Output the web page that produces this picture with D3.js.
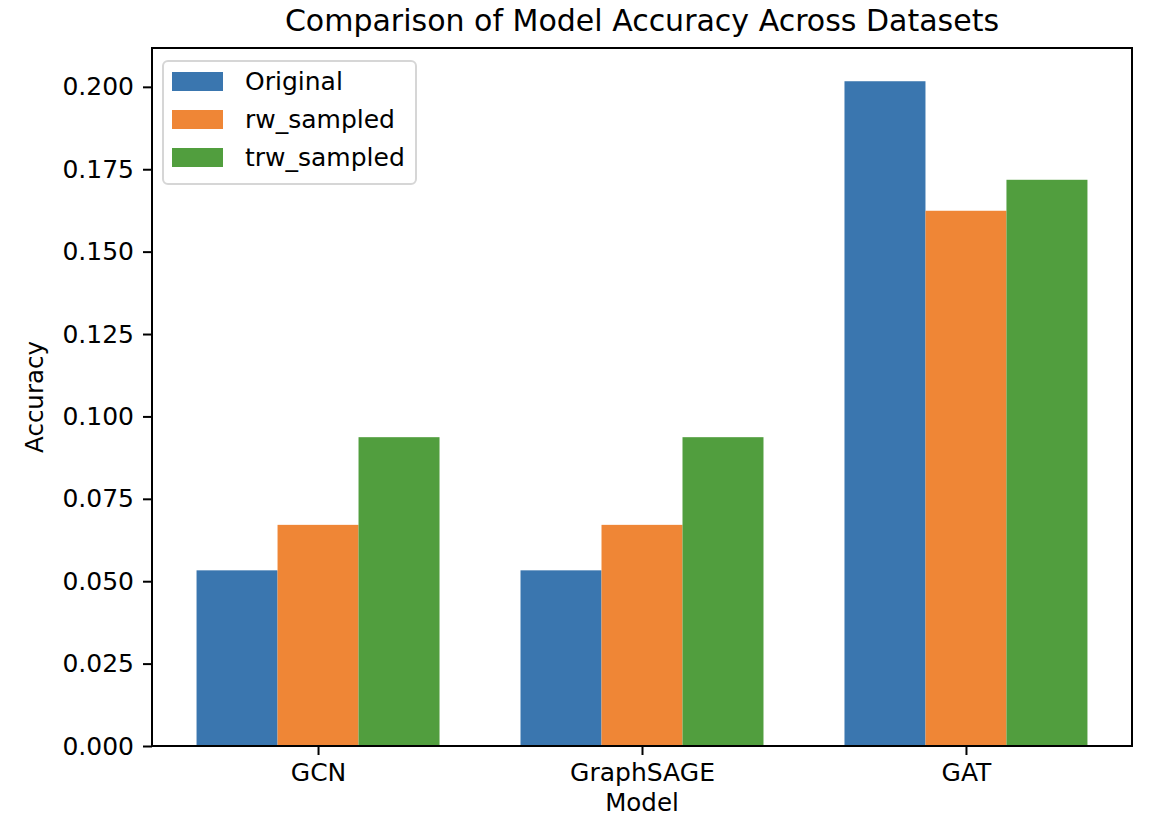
<!DOCTYPE html>
<html>
<head>
<meta charset="utf-8">
<script src="https://cdn.jsdelivr.net/npm/d3@7"></script>
<style>
  body { margin: 0; background: #fff; }
  svg { font-family: "DejaVu Sans", sans-serif; }
</style>
</head>
<body>
<div id="chart"></div>
<script>
const models = ["GCN", "GraphSAGE", "GAT"];
const seriesNames = ["Original", "rw_sampled", "trw_sampled"];
const original = [0.0533, 0.0533, 0.2017];
const rwSampled = [0.0671, 0.0671, 0.1624];
const trwSampled = [0.0937, 0.0937, 0.1718];
const yTicks = [0, 0.025, 0.05, 0.075, 0.1, 0.125, 0.15, 0.175, 0.2];
const colors = ["#3a76af", "#ef8636", "#519e3e"];

const width = 1160;
const height = 818;
const margin = { top: 48, right: 28, bottom: 72, left: 152 };
const barWidth = 0.25;
const fontSize = 25;

const series = [original, rwSampled, trwSampled];

const svg = d3
  .select("#chart")
  .append("svg")
  .attr("width", width)
  .attr("height", height);

// matplotlib-style limits: 5% margin on x, ymax = 1.05 * max
const xMin = -barWidth * 1.5;
const xMax = models.length - 1 + barWidth * 1.5;
const xPad = (xMax - xMin) * 0.05;
const yMax = d3.max(series.flat()) * 1.05;

const x = d3
  .scaleLinear()
  .domain([xMin - xPad, xMax + xPad])
  .range([margin.left, width - margin.right]);

const y = d3
  .scaleLinear()
  .domain([0, yMax])
  .range([height - margin.bottom, margin.top]);

// bars
series.forEach((values, si) => {
  svg
    .append("g")
    .selectAll("rect")
    .data(values)
    .enter()
    .append("rect")
    .attr("x", (d, i) => x(i + (si - 1) * barWidth - barWidth / 2))
    .attr("y", (d) => y(d))
    .attr("width", x(barWidth) - x(0))
    .attr("height", (d) => y(0) - y(d))
    .attr("fill", colors[si]);
});

// frame
svg
  .append("rect")
  .attr("x", margin.left)
  .attr("y", margin.top)
  .attr("width", width - margin.left - margin.right)
  .attr("height", height - margin.top - margin.bottom)
  .attr("fill", "none")
  .attr("stroke", "#000")
  .attr("stroke-width", 2);

const yAxis = d3
  .axisLeft(y)
  .tickValues(yTicks)
  .tickFormat(d3.format(".3f"))
  .tickSize(9)
  .tickPadding(9);

const xAxis = d3
  .axisBottom(x)
  .tickValues(d3.range(models.length))
  .tickFormat((d) => models[d])
  .tickSize(9)
  .tickPadding(8);

const styleAxis = (g) => {
  g.select(".domain").remove();
  g.selectAll("line").attr("stroke-width", 2);
  g.selectAll("text")
    .attr("font-size", fontSize)
    .attr("fill", "#000")
    .attr("font-family", "DejaVu Sans");
};

svg
  .append("g")
  .attr("transform", `translate(${margin.left}, 0)`)
  .call(yAxis)
  .call(styleAxis);

svg
  .append("g")
  .attr("transform", `translate(0, ${height - margin.bottom})`)
  .call(xAxis)
  .call(styleAxis);

const cx = (margin.left + width - margin.right) / 2;

svg
  .append("text")
  .attr("x", cx)
  .attr("y", 31)
  .attr("text-anchor", "middle")
  .attr("font-size", 30)
  .text("Comparison of Model Accuracy Across Datasets");

svg
  .append("text")
  .attr("x", cx)
  .attr("y", 811)
  .attr("text-anchor", "middle")
  .attr("font-size", 24.5)
  .text("Model");

svg
  .append("text")
  .attr("transform", `translate(43, ${(margin.top + height - margin.bottom) / 2}) rotate(-90)`)
  .attr("text-anchor", "middle")
  .attr("font-size", 24.5)
  .text("Accuracy");

// legend
const legend = svg.append("g").attr("transform", "translate(163, 61)");

legend
  .append("rect")
  .attr("width", 253)
  .attr("height", 123)
  .attr("rx", 5)
  .attr("fill", "#fff")
  .attr("fill-opacity", 0.8)
  .attr("stroke", "#d6d6d6")
  .attr("stroke-width", 2);

seriesNames.forEach((name, i) => {
  legend
    .append("rect")
    .attr("x", 9)
    .attr("y", 11 + i * 38)
    .attr("width", 51)
    .attr("height", 19)
    .attr("fill", colors[i]);
  legend
    .append("text")
    .attr("x", 82)
    .attr("y", 29 + i * 38)
    .attr("font-size", fontSize)
    .text(name);
});
</script>
</body>
</html>
